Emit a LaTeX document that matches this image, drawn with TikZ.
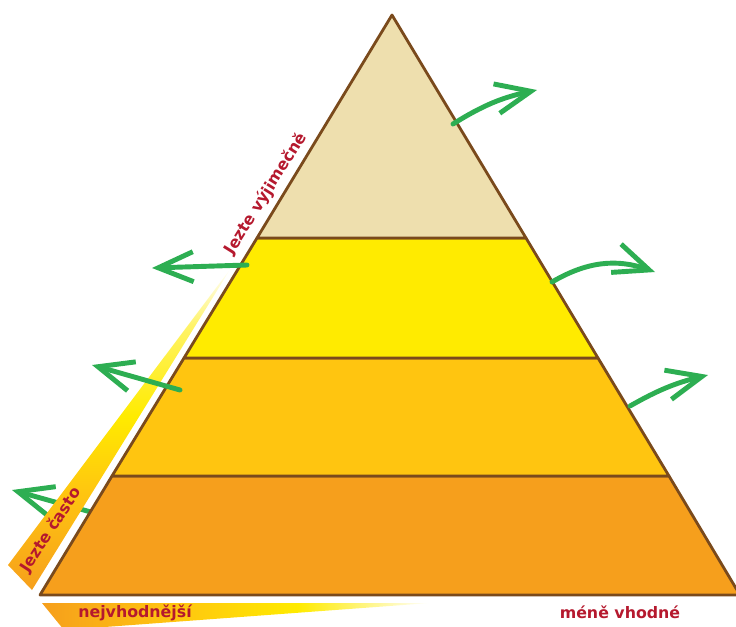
\documentclass[tikz,border=0pt]{standalone}
\usepackage{fontspec}
\newfontfamily\labelfont{DejaVu Sans}
\usetikzlibrary{arrows.meta}
\definecolor{edgebrown}{HTML}{7A4A1C}
\definecolor{tierone}{HTML}{EEDFAE}
\definecolor{tiertwo}{HTML}{FFEB00}
\definecolor{tierthree}{HTML}{FFC510}
\definecolor{tierfour}{HTML}{F69F1C}
\definecolor{arrowgreen}{HTML}{2DAE52}
\definecolor{textred}{HTML}{B5192E}
% fades for the two scale strips
\pgfdeclarehorizontalshading{bottomfade}{100bp}{color(0bp)=(tierfour); color(25bp)=(tierfour); color(42bp)=(tierthree); color(58bp)=(tiertwo); color(75bp)=(white); color(100bp)=(white)}
\pgfdeclareverticalshading{sidefade}{100bp}{color(0bp)=(tierfour); color(25bp)=(tierfour); color(40bp)=(tierthree); color(52bp)=(tiertwo); color(66bp)=(tiertwo!60); color(75bp)=(white); color(100bp)=(white)}

\begin{document}
\begin{tikzpicture}[x=0.02cm, y=-0.02cm,
  tier/.style={fill=#1, draw=edgebrown, line width=1.6pt, line join=round},
  greenarr/.style={-{Straight Barb[length=7mm, width=6mm]}, arrowgreen, line width=2.8pt, line cap=round},
  tag/.style={font=\labelfont\bfseries\fontsize{9}{10}\selectfont, text=textred, inner sep=0pt}
]
  \useasboundingbox (0,0) rectangle (736,626);

  % pyramid corners
  \coordinate (apex) at (392,15);
  \coordinate (l1) at (257,238); \coordinate (r1) at (526,238);
  \coordinate (l2) at (184,358); \coordinate (r2) at (598,358);
  \coordinate (l3) at (112,476); \coordinate (r3) at (669,476);
  \coordinate (l4) at (40,595);  \coordinate (r4) at (740,595);

  % arrow ends
  \coordinate (t1from) at (453,124); \coordinate (t1to) at (537,90);
  \coordinate (t2from) at (247,265); \coordinate (t2to) at (152,268);
  \coordinate (t2rfrom) at (552,282); \coordinate (t2rto) at (655,272);
  \coordinate (t3from) at (180,390); \coordinate (t3to) at (92,365);
  \coordinate (t3rfrom) at (630,406); \coordinate (t3rto) at (708,375);
  \coordinate (t4from) at (98,514); \coordinate (t4to) at (12,490);

  \draw[greenarr] (t4from) -- (t4to);

  % strips
  \shade[shading=sidefade] (231,268) -- (32,590) -- (8,565) -- cycle;
  \shade[shading=bottomfade] (42,603) -- (430,603) -- (64,630) -- cycle;

  % tiers
  \draw[tier=tierfour] (l3) -- (r3) -- (r4) -- (l4) -- cycle;
  \draw[tier=tierthree] (l2) -- (r2) -- (r3) -- (l3) -- cycle;
  \draw[tier=tiertwo] (l1) -- (r1) -- (r2) -- (l2) -- cycle;
  \draw[tier=tierone] (apex) -- (r1) -- (l1) -- cycle;

  \node[tag, rotate=58] (rare) at (266,194) {Jezte výjimečně};
  \node[tag, rotate=57] (often) at (51,530) {Jezte často};
  \node[tag] (best) at (135,613) {nejvhodnější};
  \node[tag] (worse) at (620,612) {méně vhodné};

  \draw[greenarr] (t1from) to[bend left=10] (t1to);
  \draw[greenarr] (t2from) -- (t2to);
  \draw[greenarr] (t2rfrom) to[bend left=25] (t2rto);
  \draw[greenarr] (t3from) -- (t3to);
  \draw[greenarr] (t3rfrom) to[bend left=8] (t3rto);
\end{tikzpicture}
\end{document}
